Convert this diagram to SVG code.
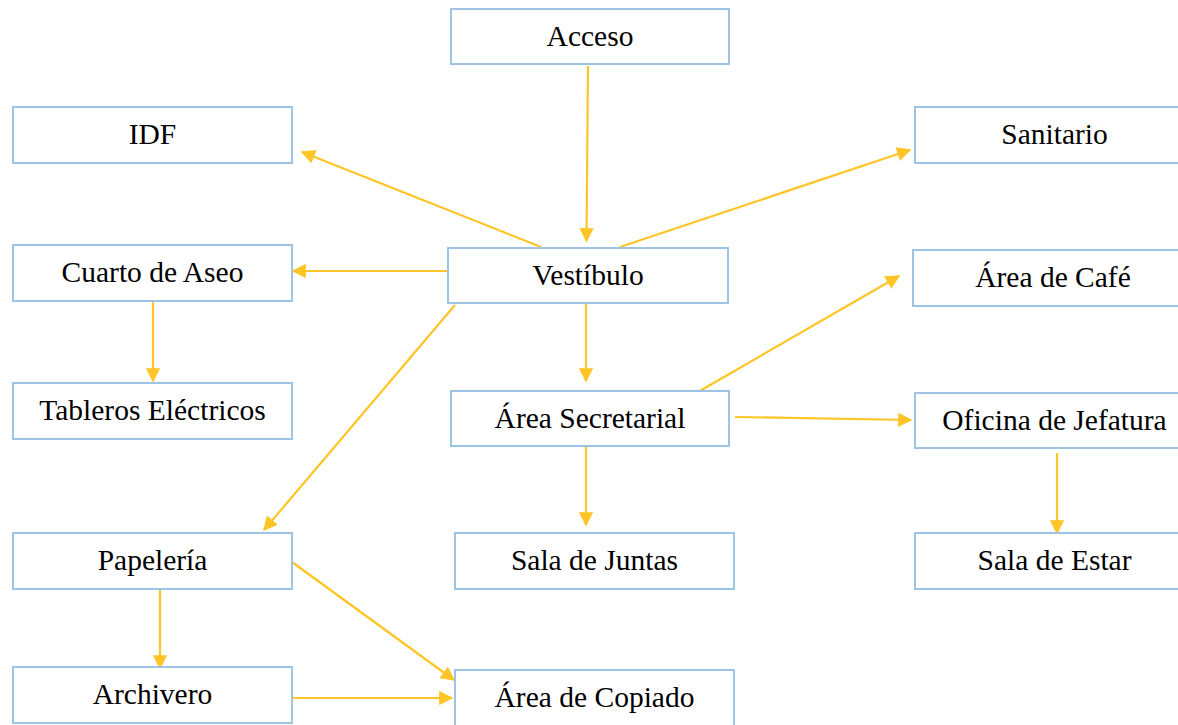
<svg xmlns="http://www.w3.org/2000/svg" width="1178" height="725" viewBox="0 0 1178 725">
<style>
.box{fill:#fff;stroke:#9dc3e6;stroke-width:2}
.lbl{font-family:"Liberation Serif","Times New Roman",serif;font-size:29.5px;fill:#000;text-anchor:middle}
.con{stroke:#ffc425;stroke-width:2.2;fill:none;marker-end:url(#ah)}
</style>
<defs>
<marker id="ah" viewBox="0 0 10 10" refX="9" refY="5" markerWidth="7" markerHeight="6.5" orient="auto" markerUnits="strokeWidth">
<path d="M0,0 L10,5 L0,10 z" fill="#ffc425"/>
</marker>
</defs>
<rect width="1178" height="725" fill="#fff"/>
<g id="connectors">
<line class="con" x1="588" y1="66" x2="586.5" y2="241"/>
<line class="con" x1="541" y1="247" x2="302" y2="152"/>
<line class="con" x1="620" y1="247" x2="910" y2="150"/>
<line class="con" x1="447" y1="271" x2="293" y2="271"/>
<line class="con" x1="455" y1="305" x2="264" y2="530"/>
<line class="con" x1="586" y1="303" x2="586" y2="381"/>
<line class="con" x1="153" y1="301" x2="153" y2="381"/>
<line class="con" x1="698" y1="392" x2="899" y2="276"/>
<line class="con" x1="735" y1="417" x2="911" y2="420"/>
<line class="con" x1="586" y1="446" x2="586" y2="525"/>
<line class="con" x1="1057" y1="453" x2="1057" y2="533"/>
<line class="con" x1="160" y1="589" x2="160" y2="668"/>
<line class="con" x1="292" y1="562" x2="454" y2="680"/>
<line class="con" x1="290" y1="698" x2="452" y2="698"/>
</g>
<g id="acceso"><rect class="box" x="451" y="9" width="278" height="55"/><text class="lbl" x="590" y="46">Acceso</text></g>
<g id="idf"><rect class="box" x="13" y="107" width="279" height="56"/><text class="lbl" x="152.5" y="144">IDF</text></g>
<g id="sanitario"><rect class="box" x="915" y="107" width="279" height="56"/><text class="lbl" x="1054.5" y="144">Sanitario</text></g>
<g id="cuarto-aseo"><rect class="box" x="13" y="245" width="279" height="56"/><text class="lbl" x="152.5" y="282">Cuarto de Aseo</text></g>
<g id="vestibulo"><rect class="box" x="448" y="248" width="280" height="55"/><text class="lbl" x="588" y="285">Vestíbulo</text></g>
<g id="area-cafe"><rect class="box" x="913" y="250" width="281" height="56"/><text class="lbl" x="1053" y="287">Área de Café</text></g>
<g id="tableros"><rect class="box" x="13" y="383" width="279" height="56"/><text class="lbl" x="152.5" y="420">Tableros Eléctricos</text></g>
<g id="area-secretarial"><rect class="box" x="451" y="391" width="278" height="55"/><text class="lbl" x="590" y="428">Área Secretarial</text></g>
<g id="oficina-jefatura"><rect class="box" x="915" y="393" width="279" height="55"/><text class="lbl" x="1054.5" y="430">Oficina de Jefatura</text></g>
<g id="papeleria"><rect class="box" x="13" y="533" width="279" height="56"/><text class="lbl" x="152.5" y="570">Papelería</text></g>
<g id="sala-juntas"><rect class="box" x="455" y="533" width="279" height="56"/><text class="lbl" x="594.5" y="570">Sala de Juntas</text></g>
<g id="sala-estar"><rect class="box" x="915" y="533" width="279" height="56"/><text class="lbl" x="1054.5" y="570">Sala de Estar</text></g>
<g id="archivero"><rect class="box" x="13" y="667" width="279" height="56"/><text class="lbl" x="152.5" y="704">Archivero</text></g>
<g id="area-copiado"><rect class="box" x="455" y="670" width="279" height="58"/><text class="lbl" x="594.5" y="707">Área de Copiado</text></g>
</svg>
